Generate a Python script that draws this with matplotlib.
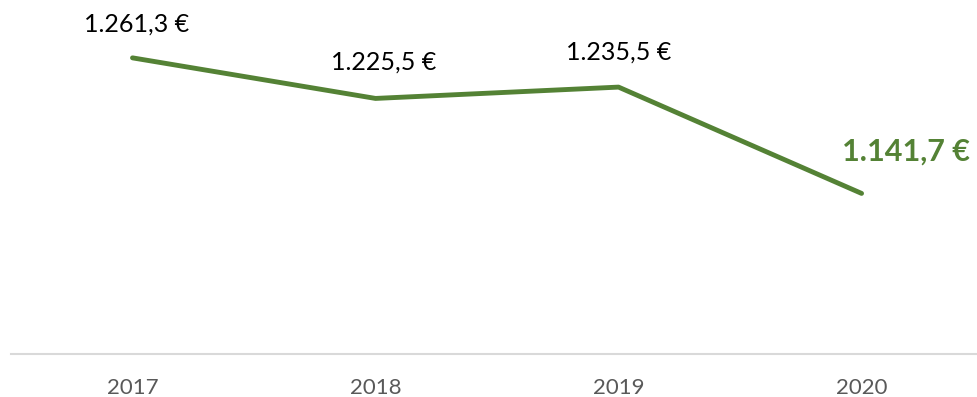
import matplotlib.pyplot as plt

years = ['2017', '2018', '2019', '2020']
values = [1261.3, 1225.5, 1235.5, 1141.7]
labels = ['1.261,3 €', '1.225,5 €', '1.235,5 €', '1.141,7 €']

green = '#548235'
plt.rcParams['font.family'] = ['Lato', 'DejaVu Sans']

fig = plt.figure(figsize=(9.77, 3.97), dpi=100)
ax = fig.add_axes([11 / 977, 1 - 354 / 397, 966 / 977, 340 / 397])

x = range(len(years))
ax.plot(x, values, color=green, linewidth=3.5, solid_capstyle='round', zorder=3)

# value labels above the points, the last one highlighted
offsets = [(3, 24), (6, 26), (0, 25)]
for i, (v, lab) in enumerate(zip(values, labels)):
    if i == len(values) - 1:
        ax.annotate(lab, (i, v), xytext=(32, 30), textcoords='offset points',
                    ha='center', va='center', fontsize=22, fontweight='bold', color=green)
    else:
        ax.annotate(lab, (i, v), xytext=offsets[i], textcoords='offset points',
                    ha='center', va='center', fontsize=18, color='black')

ax.set_xlim(-0.5, 3.475)
ax.set_ylim(1000, 1300)
ax.set_xticks(list(x))
ax.set_xticklabels(years, fontsize=16, color='#595959')
ax.tick_params(axis='x', length=0, pad=17)
ax.set_yticks([])
for side in ['top', 'right', 'left']:
    ax.spines[side].set_visible(False)
ax.spines['bottom'].set_color('#d9d9d9')
ax.spines['bottom'].set_linewidth(1.5)

fig.savefig('out.png', dpi=100)
